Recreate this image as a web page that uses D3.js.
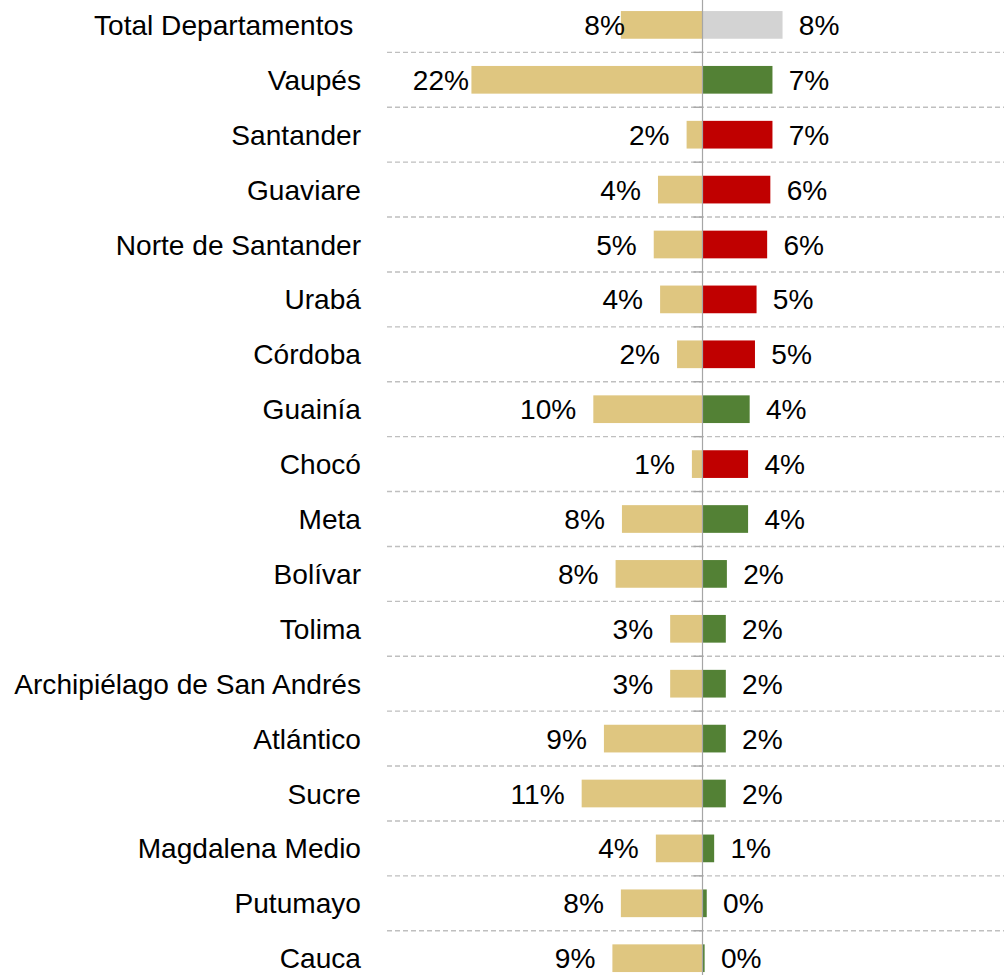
<!DOCTYPE html>
<html>
<head>
<meta charset="utf-8">
<script src="https://cdn.jsdelivr.net/npm/d3@7"></script>
<style>
html, body { margin: 0; padding: 0; background: #fff; }
svg { display: block; }
text { font-family: "Liberation Sans", Arial, sans-serif; fill: #000; }
</style>
</head>
<body>
<svg id="chart" width="1004" height="975"></svg>
<script>
const categories = ["Total Departamentos ", "Vaupés", "Santander", "Guaviare", "Norte de Santander", "Urabá", "Córdoba", "Guainía", "Chocó", "Meta", "Bolívar", "Tolima", "Archipiélago de San Andrés", "Atlántico", "Sucre", "Magdalena Medio", "Putumayo", "Cauca"];
const leftValues = [7.7, 21.8, 1.5, 4.2, 4.6, 4.0, 2.4, 10.3, 1.0, 7.6, 8.2, 3.05, 3.05, 9.3, 11.4, 4.4, 7.7, 8.5];
const rightValues = [7.55, 6.6, 6.6, 6.4, 6.1, 5.1, 4.95, 4.45, 4.3, 4.3, 2.3, 2.2, 2.2, 2.2, 2.2, 1.1, 0.4, 0.2];
const rightGroup = ["total", "good", "bad", "bad", "bad", "bad", "bad", "good", "bad", "good", "good", "good", "good", "good", "good", "good", "good", "good"];

const W = 1004, H = 975;
const svg = d3.select("#chart");
const fontSize = 28.1;
const pxPerUnit = 10.6;
const zeroX = 702.5;

const xLeft = d3.scaleLinear().domain([0, 1]).range([zeroX, zeroX - pxPerUnit]);
const xRight = d3.scaleLinear().domain([0, 1]).range([zeroX, zeroX + pxPerUnit]);
const y = d3.scalePoint().domain(categories).range([24.9, 24.9 + 17 * 54.9]);
const step = y.step();
const barH = 27.7;

const colorRight = d3.scaleOrdinal().domain(["total", "good", "bad"]).range(["#D3D3D3", "#538135", "#C00000"]);
const colorLeft = "#DFC680";

const fmt = v => Math.round(v) + "%";

// dashed separators
const seps = categories.slice(0, -1).map((c, i) => y(c) + step / 2);
svg.append("g").selectAll("line").data(seps).join("line")
  .attr("x1", 387).attr("x2", W)
  .attr("y1", d => d).attr("y2", d => d)
  .attr("stroke", "#BFBFBF").attr("stroke-width", 1.4)
  .attr("stroke-dasharray", "5,3");

// left bars
svg.append("g").selectAll("rect").data(categories).join("rect")
  .attr("x", (c, i) => xLeft(leftValues[i]))
  .attr("width", (c, i) => xLeft(0) - xLeft(leftValues[i]))
  .attr("y", c => y(c) - barH / 2)
  .attr("height", barH)
  .attr("fill", colorLeft);

// right bars
svg.append("g").selectAll("rect").data(categories).join("rect")
  .attr("x", xRight(0))
  .attr("width", (c, i) => xRight(rightValues[i]) - xRight(0))
  .attr("y", c => y(c) - barH / 2)
  .attr("height", barH)
  .attr("fill", (c, i) => colorRight(rightGroup[i]));

// center axis
svg.append("line")
  .attr("x1", zeroX).attr("x2", zeroX)
  .attr("y1", 0).attr("y2", H)
  .attr("stroke", "#A6A6A6").attr("stroke-width", 1.2);
svg.append("g").selectAll("line").data(seps).join("line")
  .attr("x1", zeroX - 9).attr("x2", zeroX)
  .attr("y1", d => d).attr("y2", d => d)
  .attr("stroke", "#A6A6A6").attr("stroke-width", 1.4);

const baseOff = fontSize * 0.358;

// category labels
svg.append("g").selectAll("text").data(categories).join("text")
  .attr("x", 361)
  .attr("y", c => y(c) + baseOff)
  .attr("text-anchor", "end")
  .attr("xml:space", "preserve")
  .style("white-space", "pre")
  .style("font-size", fontSize + "px")
  .text(c => c);

// left value labels
const leftGap = i => (i === 0 ? -4 : i === 1 ? 2.4 : 17);
svg.append("g").selectAll("text").data(categories).join("text")
  .attr("x", (c, i) => xLeft(leftValues[i]) - leftGap(i))
  .attr("y", c => y(c) + baseOff)
  .attr("text-anchor", "end")
  .style("font-size", fontSize + "px")
  .text((c, i) => fmt(leftValues[i]));

// right value labels
svg.append("g").selectAll("text").data(categories).join("text")
  .attr("x", (c, i) => xRight(rightValues[i]) + 16.3)
  .attr("y", c => y(c) + baseOff)
  .attr("text-anchor", "start")
  .style("font-size", fontSize + "px")
  .text((c, i) => fmt(rightValues[i]));
</script>
</body>
</html>
